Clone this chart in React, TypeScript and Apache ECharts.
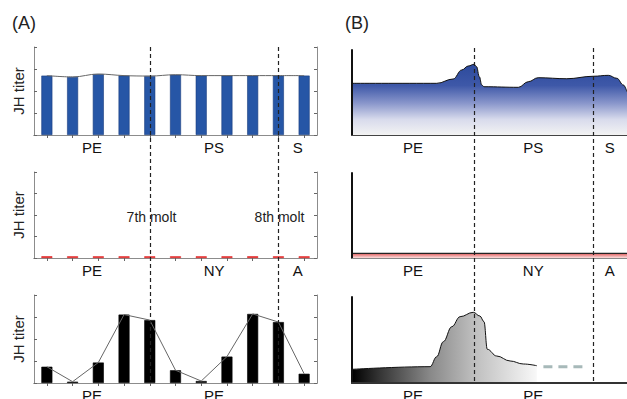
import React, { useEffect, useRef } from "react";
import * as echarts from "echarts";

// ---------- Data ----------
const samplePoints = ["1", "2", "3", "4", "5", "6", "7", "8", "9", "10", "11"];
const jhATop = [2.7, 2.64, 2.77, 2.7, 2.68, 2.74, 2.7, 2.7, 2.7, 2.7, 2.7];
const jhAMid = [0.08, 0.08, 0.08, 0.08, 0.08, 0.08, 0.08, 0.08, 0.08, 0.08, 0.08];
const jhABot = [0.74, 0.06, 0.93, 3.11, 2.86, 0.58, 0.09, 1.2, 3.14, 2.77, 0.42];
const yMinA = 0;
const yMaxA = 4;
const yStepA = 1;
const moltIndexA = [4, 9];
const moltNames = ["7th molt", "8th molt"];
const stagesTop = ["PE", "PS", "S"];
const stagesMid = ["PE", "NY", "A"];
const stagesBot = ["PE", "PE"];

const timeBTop = [0, 30.8, 36.8, 39.9, 42.3, 44.4, 45.3, 46.3, 47.2, 48.0, 60.5, 64.1, 67.7, 78.1, 87.7, 93.2, 96.3, 98.7, 100];
const jhBTop = [60.8, 60.8, 65.9, 76.5, 81.2, 83.2, 80.4, 68.6, 58.8, 56.8, 56.1, 62.7, 67.4, 66.2, 69.1, 70.2, 66.7, 58.8, 50.9];
const timeBMid = [0, 100];
const jhBMid = [5.5, 5.5];
const timeBBot = [0, 28.4, 30.8, 33.2, 36.3, 39.3, 44.1, 46.5, 48.0, 49.2, 52.6, 57.5, 62.3, 67.2];
const jhBBot = [15.9, 19.0, 30.6, 48.0, 65.5, 77.1, 82.2, 77.9, 71.3, 39.2, 31.4, 25.6, 22.1, 20.1];
const predictedTimeB = [69.6, 84.1];
const predictedJhB = [19, 19];
const moltTimeB = [44.3, 87.5];

// ---------- Layout ----------
const FONT = "'Liberation Sans', Arial, sans-serif";
const A_LEFT = 34;
const A_WIDTH = 283;
const A_GRIDS = [
  { top: 47, height: 88 },
  { top: 172, height: 86 },
  { top: 295, height: 88 },
];
const B_LEFT = 352;
const B_WIDTH = 275;
const B_GRIDS = [
  { top: 50, height: 85 },
  { top: 173, height: 85 },
  { top: 297, height: 86 },
];
const AXIS_GRAY = "#8c8c8c";

export default function App() {
  const ref = useRef<HTMLDivElement>(null);

  useEffect(() => {
    if (!ref.current) return;
    const chart = echarts.init(ref.current, undefined, { renderer: "svg" });

    const grid: any[] = [];
    const xAxis: any[] = [];
    const yAxis: any[] = [];
    const series: any[] = [];

    A_GRIDS.forEach((g, i) => {
      grid.push({ left: A_LEFT, width: A_WIDTH, top: g.top, height: g.height });
      xAxis.push({
        type: "category",
        gridIndex: i,
        data: samplePoints,
        position: "bottom",
        axisLine: { show: true, lineStyle: { color: AXIS_GRAY, width: 1 } },
        axisTick: { show: false },
        axisLabel: { show: false },
        splitLine: { show: false },
      });
      xAxis.push({
        type: "category",
        gridIndex: i,
        data: samplePoints,
        position: "top",
        axisLine: { show: true, lineStyle: { color: AXIS_GRAY, width: 1 } },
        axisTick: { show: true, inside: true, alignWithLabel: true, length: 3, lineStyle: { color: "#666" } },
        axisLabel: { show: false },
        splitLine: { show: false },
      });
      yAxis.push({
        type: "value",
        gridIndex: i,
        min: yMinA,
        max: yMaxA,
        interval: yStepA,
        position: "left",
        name: "JH titer",
        nameLocation: "middle",
        nameGap: 8,
        nameTextStyle: { fontSize: 15, color: "#222", fontFamily: FONT },
        axisLine: { show: true, lineStyle: { color: AXIS_GRAY, width: 1 } },
        axisTick: { show: true, inside: true, length: 3, lineStyle: { color: "#666" } },
        axisLabel: { show: false },
        splitLine: { show: false },
      });
      yAxis.push({
        type: "value",
        gridIndex: i,
        min: yMinA,
        max: yMaxA,
        interval: yStepA,
        position: "right",
        axisLine: { show: true, lineStyle: { color: AXIS_GRAY, width: 1 } },
        axisTick: { show: true, inside: true, length: 3, lineStyle: { color: "#666" } },
        axisLabel: { show: false },
        splitLine: { show: false },
      });
    });

    B_GRIDS.forEach((g, j) => {
      grid.push({ left: B_LEFT, width: B_WIDTH, top: g.top, height: g.height });
      xAxis.push({
        type: "value",
        gridIndex: 3 + j,
        min: 0,
        max: 100,
        z: 10,
        axisLine: {
          show: true,
          onZero: false,
          lineStyle: { color: j === 2 ? "#333" : j === 1 ? "#888" : "#444", width: j === 2 ? 2 : 1.2 },
        },
        axisTick: { show: false },
        axisLabel: { show: false },
        splitLine: { show: false },
      });
      yAxis.push({
        type: "value",
        gridIndex: 3 + j,
        min: 0,
        max: 100,
        z: 10,
        axisLine: { show: true, onZero: false, lineStyle: { color: "#111", width: 2 } },
        axisTick: { show: false },
        axisLabel: { show: false },
        splitLine: { show: false },
      });
    });

    const aSets = [
      { data: jhATop, color: "#2656a6", border: "#1a3d7e", line: true },
      { data: jhAMid, color: "#e02222", border: "#e02222", line: false },
      { data: jhABot, color: "#000000", border: "#000000", line: true },
    ];
    aSets.forEach((s, i) => {
      series.push({
        type: "bar",
        xAxisIndex: 2 * i,
        yAxisIndex: 2 * i,
        data: s.data,
        barWidth: 11,
        itemStyle: { color: s.color, borderColor: s.border, borderWidth: 0.6 },
        z: 2,
      });
      if (s.line) {
        series.push({
          type: "line",
          xAxisIndex: 2 * i,
          yAxisIndex: 2 * i,
          data: s.data,
          symbol: "none",
          smooth: i === 0 ? 0.4 : false,
          lineStyle: { color: "#666", width: 1 },
          z: 3,
        });
      }
    });

    series.push({
      type: "line",
      xAxisIndex: 6,
      yAxisIndex: 6,
      data: timeBTop.map((t, k) => [t, jhBTop[k]]),
      symbol: "none",
      smooth: 0.4,
      smoothMonotone: "x",
      lineStyle: { color: "#111", width: 1 },
      areaStyle: {
        opacity: 1,
        color: new echarts.graphic.LinearGradient(0, 0, 0, 1, [
          { offset: 0, color: "#2c4a9c" },
          { offset: 0.3, color: "#3e58a8" },
          { offset: 0.55, color: "#8996cb" },
          { offset: 0.78, color: "#d8dbec" },
          { offset: 1, color: "#f3f3f3" },
        ]),
      },
    });
    series.push({
      type: "line",
      xAxisIndex: 7,
      yAxisIndex: 7,
      data: timeBMid.map((t, k) => [t, jhBMid[k]]),
      symbol: "none",
      lineStyle: { color: "#222", width: 1.2 },
      areaStyle: {
        opacity: 1,
        color: new echarts.graphic.LinearGradient(0, 0, 0, 1, [
          { offset: 0, color: "#e05a5a" },
          { offset: 1, color: "#fbdede" },
        ]),
      },
    });
    series.push({
      type: "line",
      xAxisIndex: 8,
      yAxisIndex: 8,
      data: timeBBot.map((t, k) => [t, jhBBot[k]]),
      symbol: "none",
      smooth: 0.4,
      smoothMonotone: "x",
      lineStyle: { color: "#111", width: 1 },
      areaStyle: {
        opacity: 1,
        color: new echarts.graphic.LinearGradient(0, 0, 1, 0, [
          { offset: 0, color: "#000000" },
          { offset: 0.15, color: "#353535" },
          { offset: 0.42, color: "#888888" },
          { offset: 0.65, color: "#bcbcbc" },
          { offset: 1, color: "#f8f8f8" },
        ]),
      },
    });
    series.push({
      type: "line",
      xAxisIndex: 8,
      yAxisIndex: 8,
      data: predictedTimeB.map((t, k) => [t, predictedJhB[k]]),
      symbol: "none",
      lineStyle: { color: "#a7b9b9", width: 3, type: [9, 6] },
    });

    chart.setOption({
      animation: false,
      backgroundColor: "#ffffff",
      grid,
      xAxis,
      yAxis,
      series,
    });

    // ---------- annotations computed through the axes ----------
    const pxA = (v: number) => {
      const p0 = chart.convertToPixel({ xAxisIndex: 0 }, 0) as number;
      const p1 = chart.convertToPixel({ xAxisIndex: 0 }, 1) as number;
      return p0 + (p1 - p0) * v;
    };
    const pxB = (v: number) => chart.convertToPixel({ xAxisIndex: 6 }, v) as number;

    const graphic: any[] = [];
    const dashTop = A_GRIDS[0].top;
    const dashBottom = A_GRIDS[2].top + A_GRIDS[2].height;

    moltIndexA.forEach((m, k) => {
      const x = Math.round(pxA(m)) + 0.5;
      graphic.push({
        type: "line",
        shape: { x1: x, y1: dashTop, x2: x, y2: dashBottom },
        style: { stroke: "#222", lineWidth: 1.2, lineDash: [4, 3] },
        z: 100,
      });
      graphic.push({
        type: "text",
        x: x + 1,
        y: 217,
        style: {
          text: moltNames[k],
          fontSize: 14,
          fontFamily: FONT,
          fill: "#222",
          textAlign: "center",
          textVerticalAlign: "middle",
        },
        z: 99,
      });
    });
    moltTimeB.forEach((m) => {
      const x = Math.round(pxB(m)) + 0.5;
      graphic.push({
        type: "line",
        shape: { x1: x, y1: B_GRIDS[0].top - 2, x2: x, y2: dashBottom },
        style: { stroke: "#222", lineWidth: 1.2, lineDash: [4, 3] },
        z: 100,
      });
    });

    const boundsA = [-0.5, ...moltIndexA, samplePoints.length - 0.5];
    const boundsB = [0, ...moltTimeB, 100];
    const stageSets = [stagesTop, stagesMid, stagesBot];
    stageSets.forEach((names, i) => {
      names.forEach((n, k) => {
        const xa = pxA((boundsA[k] + boundsA[k + 1]) / 2);
        graphic.push({
          type: "text",
          x: xa,
          y: A_GRIDS[i].top + A_GRIDS[i].height + 12,
          style: {
            text: n,
            fontSize: 15,
            fontFamily: FONT,
            fill: "#111",
            textAlign: "center",
            textVerticalAlign: "middle",
          },
        });
        const xb = pxB((boundsB[k] + boundsB[k + 1]) / 2);
        graphic.push({
          type: "text",
          x: xb,
          y: B_GRIDS[i].top + B_GRIDS[i].height + 12,
          style: {
            text: n,
            fontSize: 15,
            fontFamily: FONT,
            fill: "#111",
            textAlign: "center",
            textVerticalAlign: "middle",
          },
        });
      });
    });

    graphic.push({
      type: "text",
      x: 24,
      y: 23,
      style: { text: "(A)", fontSize: 18, fontFamily: FONT, fill: "#222", textAlign: "center", textVerticalAlign: "middle" },
    });
    graphic.push({
      type: "text",
      x: 357,
      y: 23,
      style: { text: "(B)", fontSize: 18, fontFamily: FONT, fill: "#222", textAlign: "center", textVerticalAlign: "middle" },
    });

    chart.setOption({ graphic });

    return () => chart.dispose();
  }, []);

  return (
    <div
      ref={ref}
      style={{ position: "absolute", left: 0, top: 0, width: 627, height: 399, background: "#fff" }}
    />
  );
}
